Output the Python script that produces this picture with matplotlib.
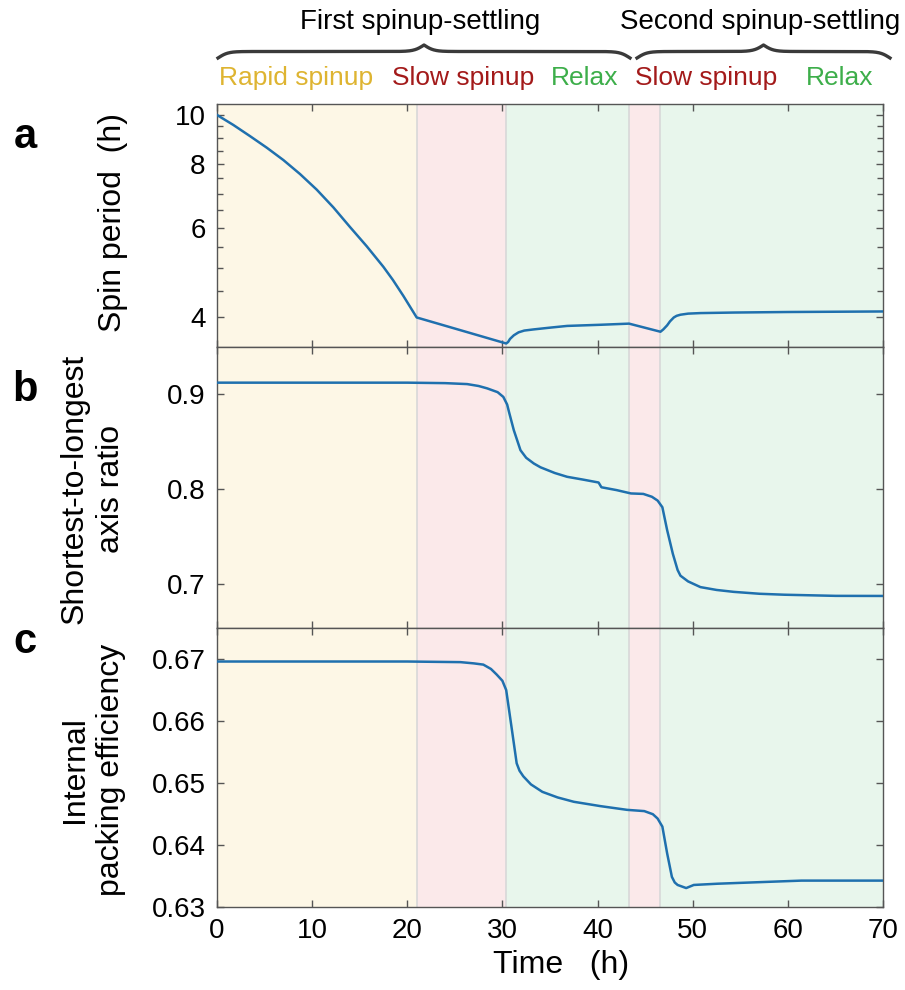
import numpy as np
import matplotlib.pyplot as plt
from matplotlib.ticker import FixedLocator, NullFormatter, FuncFormatter
from matplotlib.transforms import blended_transform_factory

plt.rcParams['font.family'] = ['Liberation Sans', 'DejaVu Sans']

W, H = 905, 990

# phases of the run (hours)
phase_edges = [0, 21, 30.4, 43.3, 46.6, 70]
phase_fill = ['#fdf7e6', '#fbe9ea', '#e8f6ec', '#fbe9ea', '#e8f6ec']
phase_names = ['Rapid spinup', 'Slow spinup', 'Relax', 'Slow spinup', 'Relax']
phase_colors = ['#deb431', '#a31a1a', '#3dae4a', '#a31a1a', '#3dae4a']
phase_label_t = [8.3, 25.9, 38.6, 51.4, 65.4]

stage_names = ['First spinup-settling', 'Second spinup-settling']
stage_label_t = [21.4, 57.1]

# a: spin period (h)
t_spin = [0, 1.75, 3.5, 5.25, 7.0, 8.75, 10.5, 12.25, 14.0, 15.75, 17.5, 18.5,
          19.6, 20.3, 21.0, 30.4, 30.6, 30.8, 31.2, 31.7, 32.3, 33.3, 35.0,
          36.8, 40.3, 43.3, 46.6, 46.9, 47.3, 47.6, 48.0, 48.3, 48.7, 49.5,
          50.8, 54.3, 60.0, 70.0]
spin = [10.0, 9.55, 9.08, 8.62, 8.15, 7.65, 7.13, 6.58, 6.02, 5.52, 5.03, 4.74,
        4.41, 4.2, 4.0, 3.556, 3.58, 3.63, 3.69, 3.74, 3.77, 3.79, 3.82,
        3.85, 3.87, 3.89, 3.75, 3.79, 3.86, 3.93, 4.0, 4.03, 4.05, 4.07,
        4.08, 4.09, 4.10, 4.11]

# b: shortest-to-longest axis ratio
t_axis = [0, 20, 24, 26.3, 27.5, 28.4, 29.5, 30.1, 30.5, 30.7, 31.2, 31.9, 32.5,
          33.3, 34.0, 35.5, 36.8, 38.5, 40.1, 40.4, 42.0, 43.5, 44.8, 45.7,
          46.3, 46.8, 47.3, 47.9, 48.4, 48.7, 49.5, 50.8, 52.5, 54.3, 57.0,
          59.6, 65.0, 70.0]
axis_ratio = [0.912, 0.912, 0.9115, 0.9105, 0.9085, 0.906, 0.902, 0.897, 0.889,
              0.881, 0.862, 0.841, 0.833, 0.827, 0.823, 0.817, 0.813, 0.810,
              0.807, 0.802, 0.799, 0.7955, 0.795, 0.792, 0.788, 0.781, 0.757,
              0.732, 0.715, 0.709, 0.703, 0.697, 0.694, 0.692, 0.690, 0.689,
              0.6878, 0.6877]

# c: internal packing efficiency
t_pack = [0, 20, 25.6, 27.0, 28.0, 28.8, 29.4, 30.0, 30.4, 31.0, 31.5, 31.8,
          32.2, 33.0, 34.2, 35.8, 37.5, 40.3, 43.1, 44.9, 45.8, 46.3, 46.8,
          47.3, 47.8, 48.1, 48.4, 49.3, 50.1, 52.6, 56.1, 61.4, 70.0]
packing = [0.6696, 0.6696, 0.6695, 0.6693, 0.6691, 0.6684, 0.6675, 0.6665,
           0.665, 0.6586, 0.6532, 0.652, 0.6511, 0.6498, 0.6486, 0.6477,
           0.647, 0.6463, 0.6457, 0.6455, 0.645, 0.6443, 0.643, 0.6387,
           0.6349, 0.634, 0.6336, 0.6331, 0.6336, 0.6338, 0.634, 0.6343,
           0.6343]

line_col = '#1f70ae'
spine_col = '#555555'


def setup(ax):
    for x0, x1, c in zip(phase_edges[:-1], phase_edges[1:], phase_fill):
        ax.axvspan(x0, x1, color=c, lw=0, zorder=0)
    for e in phase_edges[1:-1]:
        ax.axvline(e, color='#d8d8d8', lw=1.2, zorder=1)
    ax.set_xlim(0, 70)
    ax.xaxis.set_major_locator(FixedLocator(range(0, 71, 10)))
    ax.tick_params(which='both', direction='in', top=True, right=True,
                   colors=spine_col, labelcolor='black', labelsize=20,
                   width=1, pad=8)
    ax.tick_params(which='major', length=5)
    ax.tick_params(which='minor', length=4)
    for s in ax.spines.values():
        s.set_color(spine_col)
        s.set_linewidth(1)


def brace(x0, x1, y_end, h, beta=0.2, n=300):
    # curly brace in pixel coords (y from top)
    half = np.linspace(x0, (x0 + x1) / 2, n)
    s = 1 / (1 + np.exp(-beta * (half - half[0]))) + 1 / (1 + np.exp(-beta * (half - half[-1])))
    s = np.concatenate([s, s[-2::-1]])
    xs = np.concatenate([half, (x0 + x1) - half[-2::-1]])
    ys = y_end - (s - 0.5) * h
    return xs / W, 1 - ys / H


fig = plt.figure(figsize=(W / 100, H / 100), dpi=100)
left, width = 216.7 / W, (883.3 - 216.7) / W
ax_a = fig.add_axes([left, 1 - 347 / H, width, (347 - 104) / H])
ax_b = fig.add_axes([left, 1 - 628 / H, width, (628 - 347) / H])
ax_c = fig.add_axes([left, 1 - 907.3 / H, width, (907.3 - 628) / H])

# panel a
setup(ax_a)
ax_a.plot(t_spin, spin, color=line_col, lw=1.8, zorder=3)
ax_a.set_yscale('log')
ax_a.set_ylim(3.5, 10.5)
ax_a.yaxis.set_major_locator(FixedLocator([4, 6, 8, 10]))
ax_a.yaxis.set_major_formatter(FuncFormatter(lambda v, p: f'{v:g}'))
ax_a.yaxis.set_minor_locator(FixedLocator([4.5, 5, 5.5, 6.5, 7, 7.5, 8.5, 9, 9.5]))
ax_a.yaxis.set_minor_formatter(NullFormatter())
ax_a.set_xticklabels([])

# panel b
setup(ax_b)
ax_b.plot(t_axis, axis_ratio, color=line_col, lw=1.8, zorder=3)
ax_b.set_ylim(0.654, 0.9495)
ax_b.yaxis.set_major_locator(FixedLocator([0.7, 0.8, 0.9]))
ax_b.yaxis.set_major_formatter(FuncFormatter(lambda v, p: f'{v:.1f}'))
ax_b.set_xticklabels([])

# panel c
setup(ax_c)
ax_c.plot(t_pack, packing, color=line_col, lw=1.8, zorder=3)
ax_c.set_ylim(0.63, 0.675)
ax_c.yaxis.set_major_locator(FixedLocator([0.63, 0.64, 0.65, 0.66, 0.67]))
ax_c.yaxis.set_major_formatter(FuncFormatter(lambda v, p: f'{v:.2f}'))

fig.text(561 / W, 1 - 965 / H, 'Time   (h)', fontsize=23, ha='center', va='center')

# y labels
fig.text(113 / W, 1 - 222 / H, 'Spin period  (h)', fontsize=23, rotation=90,
         ha='center', va='center')
fig.text(92.5 / W, 1 - 489 / H, 'Shortest-to-longest\naxis ratio', fontsize=23,
         rotation=90, ha='center', va='center', linespacing=1.3)
fig.text(93 / W, 1 - 770 / H, 'Internal\npacking efficiency', fontsize=23,
         rotation=90, ha='center', va='center', linespacing=1.3)

# panel letters
for lab, yp in zip(['a', 'b', 'c'], [137, 390, 642]):
    fig.text(25 / W, 1 - yp / H, lab, fontsize=30, fontweight='bold',
             ha='center', va='center')

# phase labels, stage titles and braces
tr = blended_transform_factory(ax_a.transData, fig.transFigure)
for name, c, xt in zip(phase_names, phase_colors, phase_label_t):
    ax_a.text(xt, 1 - 78 / H, name, color=c, fontsize=19, ha='center',
              va='center', transform=tr)
for name, xt in zip(stage_names, stage_label_t):
    ax_a.text(xt, 1 - 22 / H, name, color='black', fontsize=20, ha='center',
              va='center', transform=tr)

for x0, x1 in [(218, 630), (637, 890)]:
    bx, by = brace(x0, x1, 58, 13)
    fig.add_artist(plt.Line2D(bx, by, color='#3a3a3a', lw=2.4,
                              transform=fig.transFigure))

fig.savefig('out.png', dpi=100)
